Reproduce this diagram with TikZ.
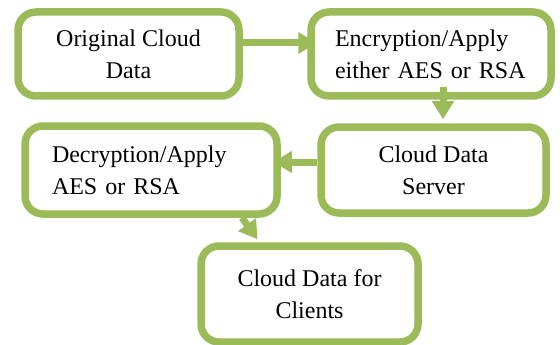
\documentclass[tikz,border=0pt]{standalone}
\usepackage{fontspec}
\setmainfont{Liberation Serif}
\usetikzlibrary{arrows.meta}
\definecolor{leaf}{HTML}{9BBB59}
\begin{document}
\begin{tikzpicture}[x=1pt,y=-1pt,
  box/.style={draw=leaf,line width=7.5pt,rounded corners=18pt,fill=white,
    font=\fontsize{24}{32}\selectfont,align=center,inner sep=0pt},
  flow/.style={draw=leaf,line width=7pt,-{Triangle[length=18pt,width=21pt]}}]
\useasboundingbox (0,0) rectangle (560,345);
\clip (0,0) rectangle (560,345);
\node[box,minimum width=221pt,minimum height=84pt] (orig) at (128.5,54) {Original Cloud\\Data};
\node[box,minimum height=84pt,inner xsep=24pt,text width=192pt,align=left] (enc) at (431,54) {Encryption/Apply\\either AES or RSA};
\node[box,minimum height=88pt,inner xsep=27pt,text width=198pt,align=left] (dec) at (151,170) {Decryption/Apply\\AES or RSA};
\node[box,minimum width=225pt,minimum height=86pt] (srv) at (433.5,170) {Cloud Data\\Server};
\node[box,minimum width=217pt,minimum height=96pt] (cli) at (309.5,294) {Cloud Data for\\Clients};
\draw[flow] ([yshift=11pt]orig.east) -- ([yshift=11pt,xshift=9pt]enc.west);
\draw[flow] ([xshift=12pt,yshift=13pt]enc.south) -- ([xshift=12pt,yshift=4pt]enc.south |- srv.north);
\draw[flow] ([yshift=8pt]srv.west) -- ([yshift=8pt,xshift=-7pt]dec.east);
\draw[flow] ([xshift=91pt]dec.south) -- ([xshift=-52pt,yshift=3pt]cli.north);
\end{tikzpicture}
\end{document}
